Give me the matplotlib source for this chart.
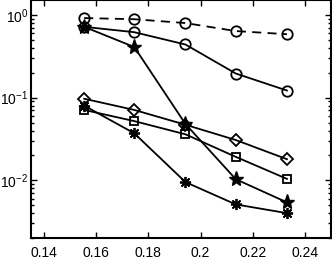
import matplotlib
matplotlib.use("Agg")
import matplotlib.pyplot as plt
from matplotlib.ticker import LogLocator, FixedLocator, NullFormatter

plt.rcParams['font.family'] = ['Liberation Sans', 'DejaVu Sans']
plt.rcParams['mathtext.fontset'] = 'custom'
plt.rcParams['mathtext.rm'] = 'Liberation Sans'
plt.rcParams['mathtext.it'] = 'Liberation Sans'

x = [0.1554, 0.1746, 0.1942, 0.2135, 0.2331]
circle_dashed = [0.92, 0.89, 0.80, 0.64, 0.586]
circle_solid = [0.72, 0.62, 0.44, 0.196, 0.122]
star = [0.72, 0.41, 0.048, 0.0103, 0.0054]
diamond = [0.097, 0.071, 0.047, 0.0307, 0.018]
square = [0.071, 0.052, 0.036, 0.0192, 0.0104]
asterisk = [0.080, 0.037, 0.0095, 0.0051, 0.0040]
xticks = [0.14, 0.16, 0.18, 0.2, 0.22, 0.24]
xticklabels = ['0.14', '0.16', '0.18', '0.2', '0.22', '0.24']

fig = plt.figure(figsize=(3.32, 2.59), dpi=100)
ax = fig.add_axes([31/332, 21/259, 300/332, 237.5/259])

lw = 1.3
ms = 7.5
ax.plot(x, circle_dashed, 'k-', linestyle=(0, (5, 3.5)), marker='o', mfc='none', mec='k', ms=ms, lw=lw, mew=1.3)
ax.plot(x, circle_solid, 'k-', marker='o', mfc='none', mec='k', ms=ms, lw=lw, mew=1.3)
ax.plot(x, star, 'k-', marker='*', mfc='k', mec='k', ms=11, lw=lw)
ax.plot(x, diamond, 'k-', marker='D', mfc='none', mec='k', ms=6.5, lw=lw, mew=1.3)
ax.plot(x, square, 'k-', marker='s', mfc='none', mec='k', ms=6, lw=lw, mew=1.3)
ax.plot(x, asterisk, 'k-', marker=(8, 2, 0), mfc='k', mec='k', ms=8, lw=lw, mew=1.3)

ax.set_yscale('log')
ax.set_xlim(0.135, 0.25)
ax.set_ylim(0.002, 1.5)
ax.xaxis.set_major_locator(FixedLocator(xticks))
ax.set_xticklabels(xticklabels)
ax.yaxis.set_major_locator(LogLocator(base=10, numticks=10))
ax.yaxis.set_minor_locator(LogLocator(base=10, subs=range(2, 10), numticks=10))
ax.yaxis.set_minor_formatter(NullFormatter())

ax.tick_params(which='both', direction='in', top=True, right=True, labelsize=10, width=1.0)
ax.tick_params(axis='x', pad=6)
ax.tick_params(axis='y', pad=2)
ax.tick_params(which='major', length=4)
ax.tick_params(which='minor', length=2)
for s in ax.spines.values():
    s.set_linewidth(1.5)

fig.savefig('out.png', dpi=100)
